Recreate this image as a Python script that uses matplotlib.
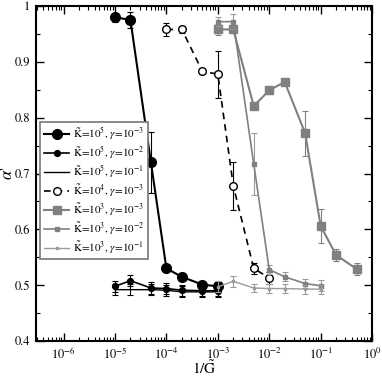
import numpy as np
import matplotlib
matplotlib.use("Agg")
import matplotlib.pyplot as plt
from matplotlib.lines import Line2D
from matplotlib.ticker import LogLocator, MultipleLocator, FixedLocator, NullFormatter

plt.rcParams['font.family'] = ['STIXGeneral', 'DejaVu Serif']
plt.rcParams['mathtext.fontset'] = 'stix'

# data
x1 = [1e-5, 2e-5, 5e-5, 1e-4, 2e-4, 5e-4, 1e-3]
y1 = [0.980, 0.975, 0.720, 0.530, 0.515, 0.501, 0.498]
e1 = [0.008, 0.015, 0.055, 0.006, 0.006, 0.005, 0.005]

x2 = [1e-5, 2e-5, 5e-5, 1e-4, 2e-4, 5e-4, 1e-3]
y2 = [0.498, 0.508, 0.495, 0.494, 0.491, 0.490, 0.490]
e2 = [0.010, 0.010, 0.010, 0.010, 0.010, 0.010, 0.010]

x3 = [1e-5, 2e-5, 5e-5, 1e-4, 2e-4, 5e-4, 1e-3]
y3 = [0.492, 0.492, 0.492, 0.491, 0.488, 0.488, 0.488]
e3 = [0.010, 0.010, 0.010, 0.010, 0.010, 0.010, 0.010]

x4 = [1e-4, 2e-4, 5e-4, 1e-3, 2e-3, 5e-3, 1e-2]
y4 = [0.958, 0.958, 0.883, 0.878, 0.678, 0.530, 0.513]
e4 = [0.012, 0.006, 0.004, 0.042, 0.043, 0.010, 0.010]

x5 = [1e-3, 2e-3, 5e-3, 1e-2, 2e-2, 5e-2, 1e-1, 2e-1, 5e-1]
y5 = [0.958, 0.958, 0.821, 0.849, 0.864, 0.772, 0.606, 0.554, 0.529]
e5 = [0.010, 0.006, 0.006, 0.006, 0.004, 0.040, 0.030, 0.010, 0.010]

x6 = [1e-3, 2e-3, 5e-3, 1e-2, 2e-2, 5e-2, 1e-1]
y6 = [0.972, 0.972, 0.717, 0.528, 0.515, 0.503, 0.499]
e6 = [0.008, 0.013, 0.055, 0.008, 0.008, 0.008, 0.010]

x7 = [1e-3, 2e-3, 5e-3, 1e-2, 2e-2, 5e-2, 1e-1]
y7 = [0.497, 0.507, 0.495, 0.494, 0.494, 0.493, 0.493]
e7 = [0.010, 0.010, 0.008, 0.008, 0.008, 0.008, 0.008]

labels = [
    r"$\tilde{\mathrm{K}}$=10$^5$, $\gamma$=10$^{-3}$",
    r"$\tilde{\mathrm{K}}$=10$^5$, $\gamma$=10$^{-2}$",
    r"$\tilde{\mathrm{K}}$=10$^5$, $\gamma$=10$^{-1}$",
    r"$\tilde{\mathrm{K}}$=10$^4$, $\gamma$=10$^{-3}$",
    r"$\tilde{\mathrm{K}}$=10$^3$, $\gamma$=10$^{-3}$",
    r"$\tilde{\mathrm{K}}$=10$^3$, $\gamma$=10$^{-2}$",
    r"$\tilde{\mathrm{K}}$=10$^3$, $\gamma$=10$^{-1}$",
]

fig = plt.figure(figsize=(3.82, 3.76), dpi=100)
ax = fig.add_axes([0.094, 0.093, 0.880, 0.891])

g1 = '#808080'
g2 = '#9a9a9a'
cap = 2

styles = [
    dict(color='black', lw=1.5, ls='-', marker='o', ms=7, mfc='black', mec='black', mew=1.0),
    dict(color='black', lw=1.2, ls='-', marker='o', ms=4.2, mfc='black', mec='black', mew=1.0),
    dict(color='black', lw=1.0, ls='-', marker='None', ms=0, mfc='black', mec='black', mew=1.0),
    dict(color='black', lw=1.2, ls=(0, (4, 3)), marker='o', ms=5.5, mfc='white', mec='black', mew=1.0),
    dict(color=g1, lw=1.5, ls='-', marker='s', ms=5.5, mfc=g1, mec=g1, mew=1.0),
    dict(color=g1, lw=1.2, ls='-', marker='s', ms=3.5, mfc=g1, mec=g1, mew=1.0),
    dict(color=g2, lw=1.0, ls='-', marker='s', ms=1.5, mfc=g2, mec=g2, mew=1.0),
]
ecolors = ['black', 'black', 'black', 'black', g1, g2, g2]
series = [(x1, y1, e1), (x2, y2, e2), (x3, y3, e3), (x4, y4, e4),
          (x5, y5, e5), (x6, y6, e6), (x7, y7, e7)]

handles = []
for (xs, ys, es), st, ec, lab in zip(series, styles, ecolors, labels):
    ax.errorbar(xs, ys, yerr=es, fmt='none', ecolor=ec, elinewidth=0.8, capsize=cap, capthick=0.8)
    ax.plot(xs, ys, **st)
    handles.append(Line2D([], [], label=lab, **st))

ax.set_xscale('log')
ax.set_xlim(2.9e-7, 1)
ax.set_ylim(0.4, 1.0)

ax.xaxis.set_major_locator(FixedLocator([1e-6, 1e-5, 1e-4, 1e-3, 1e-2, 1e-1, 1e0]))
ax.xaxis.set_minor_locator(LogLocator(base=10, subs=np.arange(2, 10), numticks=20))
ax.xaxis.set_minor_formatter(NullFormatter())
ax.yaxis.set_minor_locator(MultipleLocator(0.05))
ax.set_yticks([0.4, 0.5, 0.6, 0.7, 0.8, 0.9, 1.0])
ax.set_yticklabels(['0.4', '0.5', '0.6', '0.7', '0.8', '0.9', '1'])

ax.tick_params(which='both', direction='in', top=True, right=True, labelsize=9)
ax.tick_params(which='major', length=6, width=1, pad=4)
ax.tick_params(which='minor', length=3, width=0.8)
for s in ax.spines.values():
    s.set_linewidth(1.5)

ax.set_xlabel(r"1/$\tilde{\mathrm{G}}$", fontsize=11)
ax.xaxis.set_label_coords(0.5, -0.055)
ax.set_ylabel(r"$\alpha$'", fontsize=12)
ax.yaxis.set_label_coords(-0.058, 0.5)

leg = ax.legend(handles=handles, loc='upper left', bbox_to_anchor=(0.012, 0.655), fontsize=8,
                frameon=True, fancybox=False, edgecolor='#777777', framealpha=1,
                handlelength=2.3, handletextpad=0.3, borderpad=0.35, labelspacing=0.25,
                borderaxespad=0)
leg.get_frame().set_linewidth(1.2)

fig.savefig('out.png', dpi=100)
